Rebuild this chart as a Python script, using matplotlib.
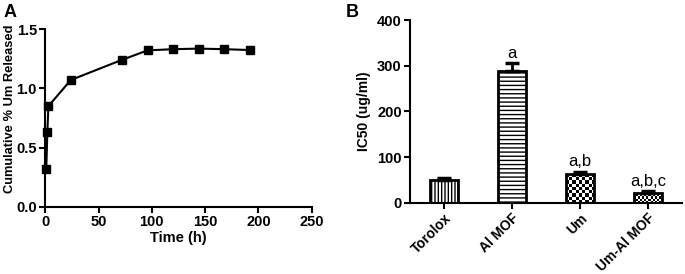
import numpy as np
import matplotlib
matplotlib.use("Agg")
import matplotlib.pyplot as plt

# ---------- Data ----------
# Panel A: release profile
time_h = [1, 2, 3, 24, 72, 96, 120, 144, 168, 192]
cum_release = [0.32, 0.63, 0.85, 1.07, 1.24, 1.32, 1.33, 1.335, 1.33, 1.323]

# Panel B: IC50
groups = ["Torolox", "Al MOF", "Um", "Um-Al MOF"]
ic50 = [50, 288, 62, 22]
ic50_err = [5, 18, 6, 4]
sig_labels = ["", "a", "a,b", "a,b,c"]

plt.rcParams["font.family"] = ["Liberation Sans", "DejaVu Sans"]
plt.rcParams["hatch.linewidth"] = 1.0
plt.rcParams["hatch.color"] = "black"


def style_axes(ax):
    for side in ["top", "right"]:
        ax.spines[side].set_visible(False)
    for side in ["left", "bottom"]:
        ax.spines[side].set_linewidth(1.5)
    ax.tick_params(width=1.5, length=4, labelsize=10.5, pad=2)
    for lbl in ax.get_xticklabels() + ax.get_yticklabels():
        lbl.set_fontweight("bold")


fig = plt.figure(figsize=(6.85, 2.74), dpi=100)

# ---------- Panel A ----------
axA = fig.add_axes([0.066, 0.245, 0.389, 0.649])
axA.plot(time_h, cum_release, color="black", lw=1.5, marker="s", ms=6,
         clip_on=False, zorder=3)
axA.set_xlim(0, 250)
axA.set_ylim(0, 1.5)
axA.set_xticks([0, 50, 100, 150, 200, 250])
axA.set_yticks([0.0, 0.5, 1.0, 1.5])
axA.set_xlabel("Time (h)", fontsize=10.5, fontweight="bold", labelpad=1)
axA.set_ylabel("Cumulative % Um Released", fontsize=9.3, fontweight="bold")
style_axes(axA)
axA.yaxis.set_label_coords(-0.108, 0.55)
fig.text(0.005, 0.985, "A", fontsize=13, fontweight="bold", va="top")

# ---------- Panel B ----------
axB = fig.add_axes([0.5985, 0.26, 0.397, 0.667])
x = np.arange(len(groups))
bw = 0.42
hatches = ["|||||", "----", None, None]
faces = ["white", "white", "none", "none"]
bars = axB.bar(x, ic50, width=bw, color=faces, edgecolor="black",
               linewidth=2, zorder=2)
for b, h in zip(bars, hatches):
    if h:
        b.set_hatch(h)

# checkerboard fills for Um and Um-Al MOF (square cells in pixel space)
for i, n in [(2, 9), (3, 14)]:
    b = bars[i]
    x0, y0 = b.get_x(), b.get_y()
    w, hgt = b.get_width(), b.get_height()
    ny = max(1, int(round(n * hgt / (w * 150))))
    checker = (np.add.outer(np.arange(ny), np.arange(n)) % 2).astype(float)
    im = axB.imshow(checker, cmap="gray", extent=[x0, x0 + w, y0, y0 + hgt],
                    aspect="auto", interpolation="nearest", zorder=1.5)
    im.set_clip_path(b)

axB.errorbar(x, ic50, yerr=[np.zeros(len(ic50)), ic50_err], fmt="none",
             ecolor="black", elinewidth=2, capsize=5, capthick=2.5, zorder=3)
for xi, v, e, s in zip(x, ic50, ic50_err, sig_labels):
    if s:
        axB.text(xi, v + e + 5, s, ha="center", va="bottom", fontsize=12)

axB.set_xlim(-0.5, 3.5)
axB.set_ylim(0, 400)
axB.set_yticks([0, 100, 200, 300, 400])
axB.set_xticks(x)
axB.set_xticklabels(groups, rotation=45, ha="right", rotation_mode="anchor")
axB.set_ylabel("IC50 (ug/ml)", fontsize=10, fontweight="bold", labelpad=4)
style_axes(axB)
axB.tick_params(axis="x", labelsize=10)
fig.text(0.505, 0.985, "B", fontsize=13, fontweight="bold", va="top")

fig.savefig("out.png", dpi=100)
